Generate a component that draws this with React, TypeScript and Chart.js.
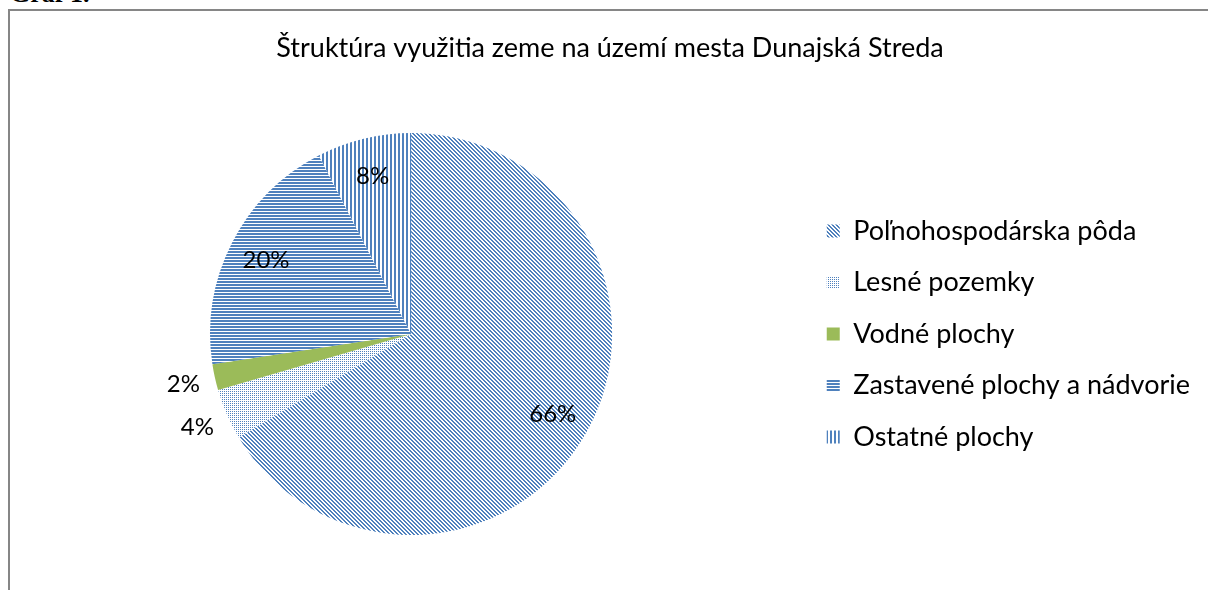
import { useEffect, useRef } from "react";
import { Chart, registerables } from "chart.js";

Chart.register(...registerables);

const TITLE = "Štruktúra využitia zeme na území mesta Dunajská Streda";
const categories = [
  "Poľnohospodárska pôda",
  "Lesné pozemky",
  "Vodné plochy",
  "Zastavené plochy a nádvorie",
  "Ostatné plochy",
];
const shares = [66.4, 4.1, 2.1, 19.8, 7.6];
const patternKinds = ["diag", "dots", "solid", "horiz", "vert"];

const BLUE = "#4F81BD";
const GREEN = "#9BBB59";
const FONT = "Lato";

function makePattern(kind: string): CanvasPattern | string {
  if (kind === "solid") return GREEN;
  const size = kind === "horiz" ? 3 : 4;
  const c = document.createElement("canvas");
  c.width = size;
  c.height = size;
  const ctx = c.getContext("2d")!;
  ctx.fillStyle = "#ffffff";
  ctx.fillRect(0, 0, size, size);
  ctx.fillStyle = BLUE;
  for (let y = 0; y < size; y++) {
    for (let x = 0; x < size; x++) {
      let on = false;
      if (kind === "diag") on = (x - y + 16) % 4 < 2;
      else if (kind === "dots") on = x % 2 === 0 && y % 2 === 0;
      else if (kind === "horiz") on = y % 3 < 2;
      else if (kind === "vert") on = x % 4 < 2;
      if (on) ctx.fillRect(x, y, 1, 1);
    }
  }
  return ctx.createPattern(c, "repeat")!;
}

const pctPlugin = {
  id: "pctLabels",
  afterDatasetsDraw(chart: any) {
    const meta = chart.getDatasetMeta(0);
    const ctx = chart.ctx as CanvasRenderingContext2D;
    const total = shares.reduce((a, b) => a + b, 0);
    ctx.save();
    ctx.font = `24px ${FONT}`;
    ctx.fillStyle = "#000";
    ctx.textAlign = "center";
    ctx.textBaseline = "middle";
    meta.data.forEach((arc: any, i: number) => {
      const { x, y, startAngle, endAngle, outerRadius } = arc.getProps(
        ["x", "y", "startAngle", "endAngle", "outerRadius"],
        true
      );
      const mid = (startAngle + endAngle) / 2;
      const frac = shares[i] / total;
      const r = frac < 0.05 ? outerRadius * 1.16 : outerRadius * 0.81;
      const label = Math.round(frac * 100) + "%";
      ctx.fillText(label, x + Math.cos(mid) * r, y + Math.sin(mid) * r);
    });
    ctx.restore();
  },
};

export default function App() {
  const ref = useRef<HTMLCanvasElement>(null);
  useEffect(() => {
    const fills = patternKinds.map(makePattern);
    const chart = new Chart(ref.current!, {
      type: "pie",
      data: {
        labels: categories,
        datasets: [
          {
            data: shares,
            backgroundColor: fills as any,
            borderWidth: 0,
          },
        ],
      },
      options: {
        responsive: false,
        animation: false,
        devicePixelRatio: 1,
        layout: { padding: { top: 10, left: 10, right: 8, bottom: 55 } },
        plugins: {
          title: {
            display: true,
            text: TITLE,
            color: "#000",
            font: { family: FONT, size: 27, weight: "normal" as any },
            padding: { top: 11, bottom: 68.6 },
          },
          legend: {
            position: "right",
            fullSize: false,
            labels: {
              boxWidth: 13,
              boxHeight: 13,
              padding: 24.5,
              color: "#000",
              font: { family: FONT, size: 27 },
            },
          },
          tooltip: { enabled: false },
        },
      },
      plugins: [pctPlugin],
    });
    return () => chart.destroy();
  }, []);
  return (
    <div
      style={{
        position: "absolute",
        left: 0,
        top: 0,
        width: 1208,
        height: 590,
        overflow: "hidden",
        background: "#fff",
      }}
    >
      <div
        style={{
          position: "absolute",
          left: 10,
          top: -19,
          font: "bold 26px 'Liberation Serif'",
          lineHeight: "26px",
          whiteSpace: "nowrap",
        }}
      >
        Graf 1.
      </div>
      <div
        style={{
          position: "absolute",
          left: 8,
          top: 9,
          width: 1220,
          height: 600,
          borderLeft: "2px solid #868686",
          borderTop: "2px solid #868686",
        }}
      />
      <canvas
        ref={ref}
        width={1198}
        height={579}
        style={{ position: "absolute", left: 10, top: 11, width: 1198, height: 579 }}
      />
    </div>
  );
}
